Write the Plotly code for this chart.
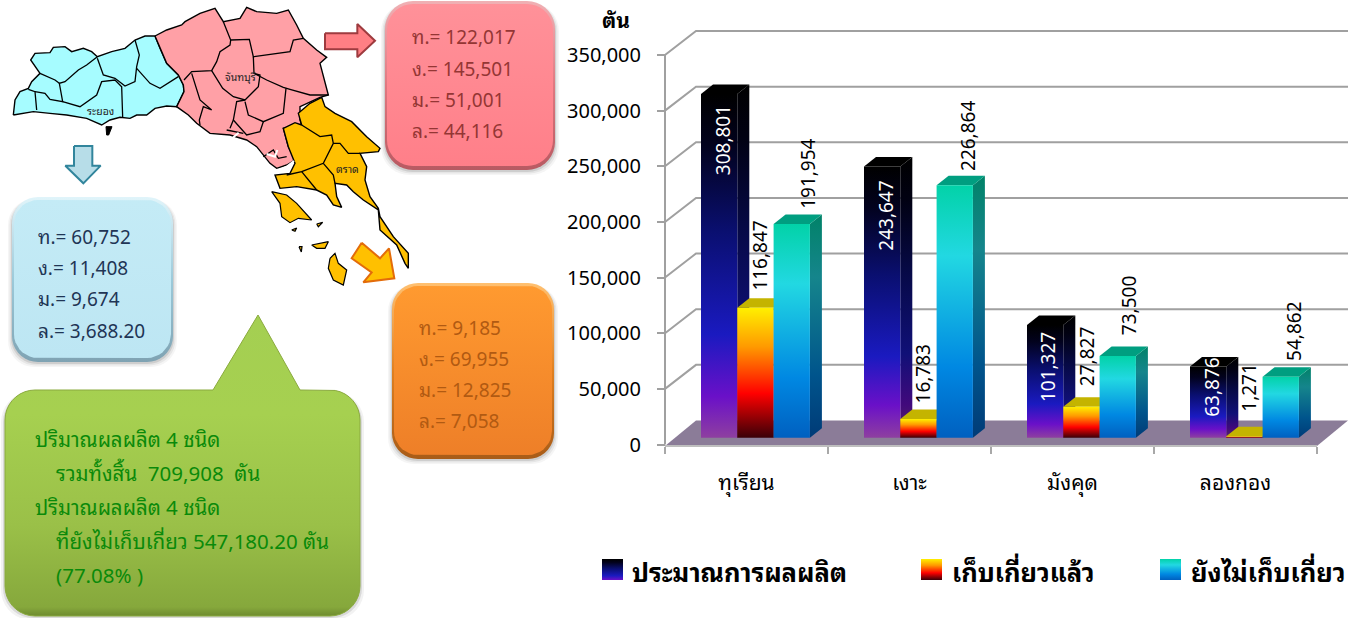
import numpy as np
import plotly.graph_objects as go

# ---------- data ----------
categories = ["ทุเรียน", "เงาะ", "มังคุด", "ลองกอง"]
series_names = ["ประมาณการผลผลิต", "เก็บเกี่ยวแล้ว", "ยังไม่เก็บเกี่ยว"]
production = [308801, 243647, 101327, 63876]
harvested = [116847, 16783, 27827, 1271]
remaining = [191954, 226864, 73500, 54862]
y_ticks = [0, 50000, 100000, 150000, 200000, 250000, 300000, 350000]
unit_label = "ตัน"

red_lines = ["ท.= 122,017", "ง.= 145,501", "ม.= 51,001", "ล.= 44,116"]
blue_lines = ["ท.= 60,752", "ง.= 11,408", "ม.= 9,674", "ล.= 3,688.20"]
orange_lines = ["ท.= 9,185", "ง.= 69,955", "ม.= 12,825", "ล.= 7,058"]
green_lines = ["ปริมาณผลผลิต 4 ชนิด", "รวมทั้งสิ้น  709,908  ตัน", "ปริมาณผลผลิต 4 ชนิด",
               "ที่ยังไม่เก็บเกี่ยว 547,180.20 ตัน", "(77.08% )"]
province_labels = ["ระยอง", "จันทบุรี", "ตราด"]

# ---------- page and scale ----------
W, H = 1357, 618
FONT = "Tahoma, Noto Sans Thai Looped, Noto Sans, Noto Sans Thai, sans-serif"
AX_L, AX_R, AX_0, AX_T = 665, 1317, 444.5, 55
PX_X = (AX_R - AX_L) / 4            # px per category
PX_Y = (AX_0 - AX_T) / 350000       # px per ton
dxu = lambda px: px / PX_X
dyu = lambda px: px / PX_Y
BACK_X, BACK_Y = dxu(31), dyu(24)
BAR_BASE = dyu(6.8)
BAR_OFF, BAR_W = dxu(36), dxu(36.3)
DEPTH_X, DEPTH_Y = dxu(12), dyu(9.5)

fig = go.Figure()


def poly(xs, ys, fill=None, grad=None, line=None, lw=0, xa="x", ya="y", name=None):
    kw = dict(x=list(xs) + [xs[0]], y=list(ys) + [ys[0]], mode="lines", fill="toself",
              xaxis=xa, yaxis=ya, hoverinfo="skip", showlegend=False,
              line=dict(color=line or "rgba(0,0,0,0)", width=lw))
    if name:
        kw["name"] = name
    if grad:
        # gradients are listed top to bottom; the library's default span runs bottom to top
        rev = [[round(1 - p, 4), c] for p, c in reversed(grad)]
        kw["fillgradient"] = dict(type="vertical", colorscale=rev)
        kw["fillcolor"] = "rgba(0,0,0,0)"
    else:
        kw["fillcolor"] = fill
    fig.add_trace(go.Scatter(**kw))


def shade(scale, k):
    out = []
    for p, c in scale:
        r, g, b = int(c[1:3], 16), int(c[3:5], 16), int(c[5:7], 16)
        out.append([p, "#%02X%02X%02X" % (int(r * k), int(g * k), int(b * k))])
    return out


GRAD_1 = [[0, "#000000"], [0.15, "#02021E"], [0.4, "#0A0F70"], [0.7, "#1A1AC0"], [0.88, "#6A10C8"], [1, "#8E3FA0"]]
GRAD_2 = [[0, "#FFF000"], [0.3, "#FF9A00"], [0.66, "#FF0000"], [1, "#3A0008"]]
GRAD_3 = [[0, "#02D2A8"], [0.28, "#22D8E2"], [0.72, "#0088E2"], [1, "#0060C0"]]
TOPS = ["#000000", "#C4B400", "#009E80"]
SERIES = [(production, GRAD_1), (harvested, GRAD_2), (remaining, GRAD_3)]

# ---------- axis lines, back wall, floor ----------
line_kw = dict(mode="lines", hoverinfo="skip", showlegend=False)
for v in y_ticks[1:]:
    fig.add_trace(go.Scatter(x=[0, BACK_X, 4 + BACK_X], y=[v, v + BACK_Y, v + BACK_Y],
                             line=dict(color="#A0A0A0", width=2), **line_kw))
fig.add_trace(go.Scatter(x=[0, 0], y=[0, 350000], line=dict(color="#A0A0A0", width=2), **line_kw))
poly([0, BACK_X, 4 + BACK_X, 4], [-dyu(1.5), BACK_Y, BACK_Y, -dyu(1.5)], fill="#8B7C98")
fig.add_trace(go.Scatter(x=[0, 4], y=[-dyu(1.5), -dyu(1.5)], line=dict(color="#BEBEBE", width=2), **line_kw))

# ---------- bars ----------
for i in range(len(categories)):
    for s, (vals, grad) in enumerate(SERIES):
        x0 = i + BAR_OFF + s * BAR_W
        x1 = x0 + BAR_W
        y0, y1 = BAR_BASE, BAR_BASE + vals[i]
        poly([x1, x1 + DEPTH_X, x1 + DEPTH_X, x1], [y0, y0 + DEPTH_Y, y1 + DEPTH_Y, y1], grad=shade(grad, 0.62))
        poly([x0, x0 + DEPTH_X, x1 + DEPTH_X, x1], [y1, y1 + DEPTH_Y, y1 + DEPTH_Y, y1], fill=TOPS[s])
        poly([x0, x1, x1, x0], [y0, y0, y1, y1], grad=grad, name=series_names[s])

# ---------- category labels on their own tick axis ----------
fig.add_trace(go.Scatter(x=[i + 0.5 for i in range(4)], y=[0] * 4, xaxis="x2", yaxis="y", mode="markers",
                         marker=dict(opacity=0), hoverinfo="skip", showlegend=False))

# ---------- data labels ----------
DL = dict(xref="x", yref="y", showarrow=False, textangle=-90)
mid_px = [46, 49, 42, 21]
for i, v in enumerate(production):
    fig.add_annotation(x=i + BAR_OFF + BAR_W / 2, y=BAR_BASE + v, text=f"{v:,}", yshift=-mid_px[i], xshift=2,
                       yanchor="middle", xanchor="center", font=dict(family=FONT, size=19, color="white"), **DL)
lift_2 = [15, 14, 19, 23]
for i, v in enumerate(harvested):
    fig.add_annotation(x=i + BAR_OFF + 1.5 * BAR_W, y=BAR_BASE + v, text=f"{v:,}", yshift=lift_2[i], xshift=3.5,
                       yanchor="bottom", xanchor="center", font=dict(family=FONT, size=19, color="black"), **DL)
lift_3 = [13, 12, 19, 14]
shift_3 = [14, 11, 10, 11]
for i, v in enumerate(remaining):
    fig.add_annotation(x=i + BAR_OFF + 2.5 * BAR_W, y=BAR_BASE + v, text=f"{v:,}", yshift=lift_3[i], xshift=shift_3[i],
                       yanchor="bottom", xanchor="center", font=dict(family=FONT, size=19, color="black"), **DL)

# ---------- pixel-space decoration helpers ----------
PX = dict(xa="x3", ya="y3")


def rrect(x0, y0, x1, y1, r, notch=None):
    xs, ys = [], []
    corners = [(x0 + r, y0 + r, 180), (x1 - r, y0 + r, 270), (x1 - r, y1 - r, 0), (x0 + r, y1 - r, 90)]
    for k, (cx, cy, a0) in enumerate(corners):
        for a in np.radians(np.linspace(a0, a0 + 90, 10)):
            xs.append(cx + r * np.cos(a))
            ys.append(cy + r * np.sin(a))
        if k == 0 and notch:
            xs += [p[0] for p in notch]
            ys += [p[1] for p in notch]
    return [float(v) for v in xs], [float(v) for v in ys]


def box(x0, y0, x1, y1, r, edge, main, lines, text_color, tx, ty, size):
    for g, a in ((4, .04), (2.5, .06), (1, .1)):
        xs, ys = rrect(x0 - g, y0 + 2, x1 + g, y1 + g + 1, r, None)
        poly(xs, ys, fill=f"rgba(0,0,0,{a})", **PX)
    xs, ys = rrect(x0, y0, x1, y1, r)
    poly(xs, ys, grad=edge, **PX)
    xs, ys = rrect(x0 + 2, y0 + 3, x1 - 2, y1 - 4, r - 2)
    poly(xs, ys, grad=main, **PX)
    for t, yy in zip(lines, ty):
        fig.add_annotation(x=tx, y=yy, xref="x3", yref="y3", text=t, showarrow=False, xanchor="left",
                           yanchor="middle", font=dict(family=FONT, size=size, color=text_color))


box(385, 1, 555, 170, 28, [[0, "#F0B0B4"], [.5, "#E07880"], [1, "#B85A62"]],
    [[0, "#FF9199"], [1, "#FF7F89"]], red_lines, "#943634", 410, [35, 67, 98, 129], 19)
box(12, 197, 173, 362, 26, [[0, "#E0F4FA"], [.5, "#9CCADA"], [1, "#7FA3B3"]],
    [[0, "#C4EBF6"], [1, "#BDE6F3"]], blue_lines, "#1F3555", 36, [235, 266, 297, 329], 19)
box(392, 283, 554, 459, 26, [[0, "#FFC070"], [.5, "#E08020"], [1, "#A85C18"]],
    [[0, "#FF9A30"], [1, "#EE7F28"]], orange_lines, "#B15A12", 417, [326, 357, 388, 419], 19)

# green speech box
notch = [(213, 390), (258, 315), (300, 390)]
for g, a in ((4, .05), (2, .1)):
    xs, ys = rrect(5 - g, 392, 360 + g, 616 + g, 30)
    poly(xs, ys, fill=f"rgba(0,0,0,{a})", **PX)
xs, ys = rrect(5, 390, 360, 616, 30, notch)
poly(xs, ys, grad=[[0, "#A4CF52"], [.33, "#A6D050"], [.7, "#9AC048"], [.97, "#86A83C"], [1, "#6F8C30"]],
     line="#8AAA3E", lw=1, **PX)
for t, xx, yy in zip(green_lines, [33, 54, 33, 54, 54], [437, 471, 505, 539, 573]):
    fig.add_annotation(x=xx, y=yy, xref="x3", yref="y3", text=t, showarrow=False, xanchor="left", yanchor="middle",
                       font=dict(family=FONT, size=20.5, color="#0A8A0A"))


# arrows
def z3(pts):
    return [p[0] / 3 for p in pts], [p[1] / 3 for p in pts]


xs, ys = z3([(975, 100), (1072, 100), (1072, 72), (1125, 122), (1072, 172), (1072, 148), (975, 148)])
poly(xs, ys, fill="#FF7F84", line="#9E3B3F", lw=2, **PX)
xs, ys = z3([(222, 438), (277, 438), (277, 497), (302, 497), (250, 550), (196, 497), (222, 497)])
poly(xs, ys, fill="#B7DDE8", line="#31859C", lw=2, **PX)
xs, ys = z3([(1085, 728), (1140, 775), (1167, 745), (1183, 835), (1090, 847), (1115, 817), (1055, 775)])
poly(xs, ys, fill="#FFC000", line="#E36C0A", lw=2, **PX)

# ---------- map ----------
CYAN = [(40,345),(45,300),(60,275),(85,265),(95,245),(120,220),(92,180),(105,160),(150,158),(160,142),(195,140),
        (215,155),(250,145),(275,155),(292,170),(335,155),(375,145),(405,120),(435,108),(465,108),(480,145),(500,190),
        (535,225),(550,255),(552,275),(530,320),(500,318),(465,325),(440,345),(410,345),(390,355),(360,352),(330,360),
        (305,375),(260,355),(200,345),(150,340),(100,335)]
PINK = [(465,108),(500,90),(545,75),(555,65),(600,40),(645,25),(670,65),(720,55),(740,22),(770,35),(830,40),(865,30),
        (890,75),(910,115),(950,150),(980,172),(960,190),(970,230),(985,285),(960,292),(900,320),(900,360),(905,375),
        (850,385),(865,440),(885,480),(860,495),(830,505),(810,490),(770,440),(740,420),(690,405),(630,400),(590,370),
        (565,345),(530,320),(552,275),(550,255),(535,225),(500,190),(480,145)]
ORANGE = [(965,292),(975,320),(1005,340),(1055,365),(1100,410),(1140,445),(1135,455),(1080,460),(1100,500),(1095,540),
          (1110,590),(1135,625),(1140,650),(1180,710),(1225,760),(1225,805),(1215,790),(1190,735),(1140,690),(1135,630),
          (1090,600),(1060,575),(1040,555),(1005,550),(1010,590),(1025,622),(1000,615),(980,585),(950,570),(890,560),
          (840,565),(825,525),(870,520),(885,490),(865,440),(850,385),(885,368),(905,375),(895,340),(930,310)]
ISLES = [[(815,575),(860,585),(890,610),(935,660),(895,655),(870,668),(845,650),(840,610)],
         [(990,775),(1005,760),(1015,790),(1040,810),(1030,855),(1000,840),(985,805)],
         [(935,735),(985,725),(975,745),(950,745)], [(875,690),(890,684),(885,694)], [(950,672),(968,667),(955,680)],
         [(897,740),(906,740),(904,756)]]
SAMET = [(318,380),(336,380),(326,405),(320,405)]
INNER = [[(85,268),(105,275),(110,330)],
         [(105,275),(135,280),(150,298),(188,305),(178,250),(195,245),(235,210),(260,195),(292,170)],
         [(188,305),(240,320),(290,285),(305,245),(345,240),(365,260),(368,352)],
         [(292,175),(310,225),(345,235),(375,258),(405,245),(410,200),(418,165),(405,120)],
         [(410,205),(450,250),(480,265),(535,230)], [(120,220),(165,240),(178,250)],
         [(670,65),(692,120),(690,135),(660,155),(650,185),(635,212),(575,215),(552,240)],
         [(692,120),(748,118),(760,170),(870,155),(880,120),(910,115)],
         [(760,170),(762,220),(800,240),(850,262),(870,268),(930,285),(985,285)],
         [(635,212),(668,265),(700,290),(735,300),(775,260),(780,225),(762,220)],
         [(575,220),(600,300),(635,330),(610,320),(598,360),(600,375)],
         [(735,300),(710,305),(700,360),(690,385)],
         [(735,305),(745,345),(790,365),(850,340),(858,265)],
         [(790,365),(780,395),(740,405),(700,360)],
         [(905,375),(960,410),(995,405),(1000,430),(970,490),(905,515),(860,525)],
         [(1000,430),(1020,430),(1045,460),(1080,460)], [(970,490),(1000,525),(1005,550)], [(905,515),(950,570)],
         [(790,470),(820,450),(835,475),(860,470)], [(680,390),(710,395),(730,400)]]
COAST_GAPS = [[(832,512),(860,500),(882,483)], [(800,462),(825,470),(832,450)], [(700,412),(716,398)]]
for pts, col in ((CYAN, "#A6FCFF"), (PINK, "#FFA0A6"), (ORANGE, "#FFC000")):
    xs, ys = z3(pts)
    poly(xs, ys, fill=col, line="#000000", lw=1.4, **PX)
for pts in ISLES:
    xs, ys = z3(pts)
    poly(xs, ys, fill="#FFC000", line="#000000", lw=1.2, **PX)
xs, ys = z3(SAMET)
poly(xs, ys, fill="#000000", line="#000000", lw=1, **PX)
for pts in INNER:
    xs, ys = z3(pts)
    fig.add_trace(go.Scatter(x=xs, y=ys, mode="lines", xaxis="x3", yaxis="y3", line=dict(color="#000000", width=1.3),
                             hoverinfo="skip", showlegend=False))
for pts in COAST_GAPS:
    xs, ys = z3(pts)
    fig.add_trace(go.Scatter(x=xs, y=ys, mode="lines", xaxis="x3", yaxis="y3", line=dict(color="#FFFFFF", width=2),
                             hoverinfo="skip", showlegend=False))
for t, xx, yy in zip(province_labels, [100, 240, 347], [110, 76, 168]):
    fig.add_annotation(x=xx, y=yy, xref="x3", yref="y3", text=t, showarrow=False,
                       font=dict(family=FONT, size=10.5, color="#222222"))

# ---------- legend (drawn to keep the narrow gradient swatches) ----------
LEG = [(602, 630, GRAD_1[:5]), (921, 950, GRAD_2), (1160, 1189, GRAD_3)]
for (sx, tx, g), name in zip(LEG, series_names):
    sw = [[p / g[-1][0], c] for p, c in g]
    poly([sx, sx + 21, sx + 21, sx], [559, 559, 580, 580], grad=sw, **PX)
    fig.add_annotation(x=tx, y=570, xref="x3", yref="y3", text=f"<b>{name}</b>", showarrow=False, xanchor="left",
                       yanchor="middle", font=dict(family=FONT, size=25.5, color="black"))

fig.add_annotation(x=616, y=18, xref="x3", yref="y3", text=f"<b>{unit_label}</b>", showarrow=False,
                   font=dict(family=FONT, size=21, color="black"))

# ---------- layout ----------
pad_x, pad_b = 3, 4.5
x_dom = [(AX_L - pad_x) / W, (AX_R + 31 + pad_x) / W]
x_rng = [-dxu(pad_x), 4 + BACK_X + dxu(pad_x)]
y_dom = [(H - AX_0 - pad_b) / H, (H - AX_T + 27) / H]
y_rng = [-dyu(pad_b), 350000 + dyu(27)]
fig.update_layout(
    template="none", width=W, height=H, margin=dict(l=0, r=0, t=0, b=0, pad=0, autoexpand=False),
    paper_bgcolor="white", plot_bgcolor="rgba(0,0,0,0)", showlegend=False, font=dict(family=FONT),
    xaxis=dict(domain=x_dom, range=x_rng, tickvals=[0, 1, 2, 3, 4], showticklabels=False,
               ticks="outside", ticklen=7, tickwidth=2, tickcolor="#A8A8A8", showgrid=False, zeroline=False,
               showline=False, anchor="free", position=(H - 446) / H),
    xaxis2=dict(domain=x_dom, range=x_rng, overlaying="x", tickmode="array",
                tickvals=[0.5, 1.5, 2.5, 3.5], ticktext=categories, ticks="", showgrid=False, zeroline=False,
                anchor="free", position=(H - 446) / H, ticklabelstandoff=22, side="bottom",
                tickfont=dict(family=FONT, size=21, color="black")),
    yaxis=dict(domain=y_dom, range=y_rng, tickvals=y_ticks, tickformat=",",
               ticks="outside", ticklen=8, tickwidth=2, tickcolor="#A0A0A0", showgrid=False, zeroline=False,
               showline=False, anchor="free", position=AX_L / W, ticklabelstandoff=12,
               tickfont=dict(family=FONT, size=20, color="black")),
    xaxis3=dict(domain=[0, 1], range=[0, W], visible=False, anchor="y3"),
    yaxis3=dict(domain=[0, 1], range=[H, 0], visible=False, anchor="x3"),
)

fig.write_html("out.html", config=dict(displayModeBar=False),
               post_script="document.body.style.margin='0';document.documentElement.style.overflow='hidden';")
